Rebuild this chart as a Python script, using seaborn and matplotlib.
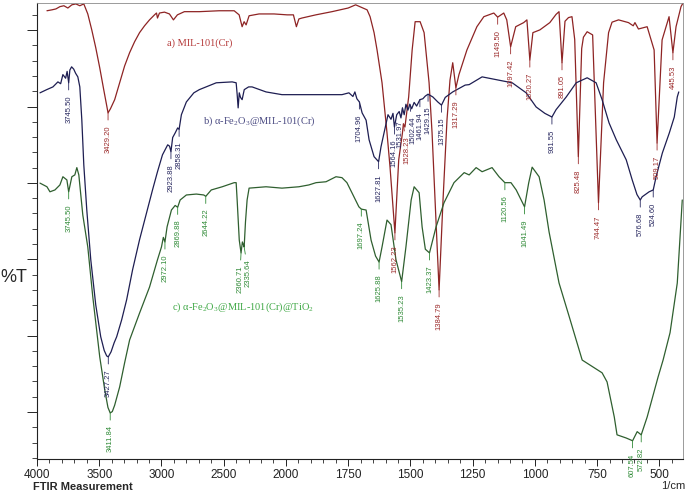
import numpy as np
import matplotlib
matplotlib.use('Agg')
import matplotlib.pyplot as plt
from matplotlib.ticker import FixedLocator, MultipleLocator, FuncFormatter, NullFormatter
import seaborn as sns

# a) MIL-101(Cr)  (wavenumber in 1/cm, %T)
mil_wn = [3920, 3880, 3848, 3816, 3784, 3752, 3720, 3688, 3656, 3624, 3608, 3592,
          3560, 3528, 3496, 3464, 3440, 3429.20, 3410, 3376, 3336, 3296, 3256, 3216,
          3176, 3136, 3096, 3056, 3040, 3032, 3016, 2976, 2936, 2904, 2872, 2816,
          2696, 2536, 2416, 2376, 2352, 2336, 2320, 2296, 2216, 2096, 1995, 1970,
          1958, 1948, 1936, 1880, 1815, 1750, 1720, 1674, 1662, 1646, 1634, 1614,
          1594, 1582, 1562.23, 1547, 1532, 1528.23, 1522, 1507, 1493, 1481, 1461,
          1445, 1425, 1413, 1401, 1384.79, 1369, 1353, 1341, 1330, 1317.29, 1305,
          1273, 1233, 1205, 1165, 1149.50, 1125, 1113, 1097.42, 1077, 1045, 1032,
          1020.27, 1008, 980, 940, 915, 903, 891.05, 879, 865, 851, 840, 825.48,
          812, 805, 790, 768, 744.47, 724, 704, 690, 664, 624, 605, 598, 584, 549,
          521, 509.17, 489, 461, 445.53, 433, 413, 405]
mil_t = [98.3, 98.5, 98.7, 99.2, 99.4, 98.9, 99.6, 99.8, 99.4, 99.8, 98.7, 97.6,
         94.1, 90.2, 85.8, 81.0, 77.5, 75.9, 76.8, 78.8, 82.5, 86.2, 89.1, 91.5,
         93.5, 95.0, 96.3, 97.4, 97.8, 96.7, 97.8, 98.0, 97.6, 96.3, 97.4, 98.1,
         98.1, 98.3, 98.3, 97.4, 94.8, 95.9, 95.2, 97.2, 97.6, 97.6, 97.4, 97.4,
         94.8, 96.5, 96.7, 97.4, 98.1, 98.9, 99.6, 98.5, 97.0, 93.5, 89.7, 82.5,
         71.5, 64.1, 49.6, 65.6, 71.5, 73.5, 72.8, 79.4, 89.7, 95.9, 95.9,
         93.5, 82.5, 71.5, 56.8, 37.1, 56.8, 74.4, 83.1, 86.9, 81.4, 84.3,
         89.7, 94.8, 97.0, 97.8, 96.9, 97.8, 96.3, 90.4, 94.8, 95.7, 96.3,
         87.5, 93.5, 94.1, 95.7, 97.5, 98.1, 86.9, 96.0, 96.8, 97.0, 92.0, 66.3,
         90.0, 92.5, 93.7, 93.0, 56.2, 82.5, 93.5, 95.8, 96.3, 95.7, 95.0, 95.7, 94.3, 94.8,
         89.7, 69.3, 91.9, 97.0, 89.1, 94.8, 99.2, 100.0]
mil_peaks = [3429.20, 1562.23, 1528.23, 1384.79, 1317.29, 1149.50, 1097.42,
             1020.27, 891.05, 825.48, 744.47, 509.17, 445.53]

# b) a-Fe2O3@MIL-101(Cr)
fe_wn = [3976, 3922, 3872, 3832, 3810, 3792, 3770, 3758, 3745.50, 3736, 3722, 3705,
         3690, 3672, 3656, 3640, 3624, 3600, 3568, 3528, 3488, 3460, 3440, 3427.27,
         3405, 3380, 3360, 3320, 3280, 3232, 3176, 3120, 3072, 3032, 2992, 2950,
         2935, 2923.88, 2910, 2890, 2870, 2858.31, 2840, 2800, 2740, 2696, 2560,
         2432, 2400, 2392, 2384, 2375, 2365, 2352, 2335, 2300, 2272, 2160, 2032,
         1960, 1880, 1775, 1747, 1731, 1723, 1715, 1704.96, 1694, 1678, 1666, 1646,
         1627.81, 1618, 1604, 1590, 1578, 1570, 1564.16, 1555, 1545, 1538, 1531.97,
         1525, 1518, 1510, 1502.44, 1495, 1485, 1475, 1461.94, 1450, 1440, 1429.15,
         1410, 1390, 1375.15, 1360, 1330, 1280, 1264, 1212, 1156, 1091, 1035, 995,
         960, 931.55, 915, 874, 834, 790, 754, 730, 702, 673, 633, 609, 590, 576.68,
         569, 541, 524.60, 513, 488, 460, 440, 428, 422]
fe_t = [80.3, 81.0, 81.6, 82.7, 82.3, 84.3, 83.5, 85.0, 82.5, 85.3, 86.0, 85.5,
        84.6, 83.8, 81.6, 74.4, 64.5, 54.6, 43.7, 33.8, 26.8, 23.8, 22.6, 22.4,
        23.5, 25.5, 26.8, 30.5, 34.9, 41.5, 48.1, 54.0, 59.0, 63.0, 66.7, 68.9,
        68.6, 67.4, 70.5, 71.5, 72.6, 72.3, 75.5, 78.3, 80.3, 81.0, 82.5,
        82.7, 82.5, 80.0, 77.0, 80.3, 79.3, 78.8, 81.0, 81.6, 81.6, 80.5, 79.9,
        79.9, 79.9, 79.9, 80.3, 79.5, 80.5, 79.0, 78.3, 75.9, 74.3, 70.0, 66.3,
        65.2, 68.5, 72.0, 75.5, 74.5, 75.8, 72.8, 75.5, 76.2, 74.8, 77.0,
        75.5, 77.8, 76.5, 77.8, 76.8, 78.2, 77.4, 78.8, 79.0, 79.6, 80.0,
        79.4, 78.3, 77.6, 79.3, 80.5, 82.0, 82.1, 83.8, 83.2, 82.5, 80.3, 77.2,
        75.8, 75.0, 76.6, 79.4, 82.5, 83.6, 82.5, 78.8, 73.7, 70.0, 65.6, 61.2, 58.0, 56.8,
        57.5, 58.6, 59.0, 61.9, 67.1, 71.5, 75.0, 79.4, 80.5]
fe_peaks = [3745.50, 3427.27, 2923.88, 2858.31, 1704.96, 1627.81, 1564.16,
            1531.97, 1502.44, 1461.94, 1429.15, 1375.15, 931.55, 576.68, 524.60]

# c) a-Fe2O3@MIL-101(Cr)@TiO2
ti_wn = [3976, 3920, 3896, 3856, 3816, 3792, 3760, 3745.50, 3720, 3696, 3680, 3664,
         3656, 3632, 3592, 3552, 3496, 3456, 3430, 3411.84, 3395, 3376, 3336, 3296,
         3256, 3176, 3096, 3032, 3000, 2985, 2972.10, 2955, 2920, 2890, 2869.88,
         2850, 2800, 2720, 2660, 2644.22, 2600, 2512, 2416, 2400, 2392, 2375,
         2360.71, 2350, 2342, 2335.64, 2325, 2312, 2296, 2160, 2032, 1948, 1908,
         1879, 1839, 1799, 1775, 1755, 1735, 1707, 1697.24, 1678, 1658, 1640,
         1625.88, 1614, 1594, 1578, 1558, 1535.23, 1518, 1497, 1485, 1465, 1453,
         1440, 1423.37, 1397, 1365, 1325, 1284, 1264, 1236, 1212, 1172, 1144,
         1120.56, 1096, 1075, 1041.49, 1025, 1011, 983, 963, 943, 903, 862, 810,
         730, 710, 681, 670, 633, 607.54, 589, 572.82, 549, 505, 485, 457, 428,
         412, 408]
ti_t = [60.5, 59.7, 58.6, 59.0, 60.1, 61.9, 61.2, 58.6, 61.9, 62.3, 63.9, 62.3,
        60.1, 53.5, 46.5, 35.6, 22.4, 15.2, 11.3, 10.1, 10.4, 11.8, 15.8, 21.1,
        26.1, 32.0, 37.7, 43.7, 46.5, 48.6, 47.6, 50.9, 54.6, 55.6, 55.2,
        56.8, 57.9, 58.1, 57.9, 57.6, 59.0, 59.7, 60.6, 60.6, 56.8, 48.0,
        45.2, 47.6, 47.0, 46.5, 52.0, 56.8, 59.4, 59.7, 59.4, 59.7, 60.1,
        60.6, 60.8, 61.9, 61.7, 60.6, 58.4, 55.3, 54.8, 54.6, 48.0, 44.5,
        43.2, 46.5, 52.4, 51.4, 43.7, 38.9, 46.5, 56.8, 59.7, 58.4, 50.9,
        46.0, 45.2, 50.9, 56.2, 60.6, 62.8, 62.3, 63.9, 63.0, 63.9, 61.9,
        60.6, 60.6, 59.0, 55.3, 60.5, 64.0, 61.9, 56.8, 49.8, 38.6, 31.2, 21.7,
        18.9, 16.9, 9.2, 5.3, 4.6, 4.0, 6.0, 5.3, 9.2, 18.0, 21.7, 27.7, 38.6,
        53.1, 56.8]
ti_peaks = [3745.50, 3411.84, 2972.10, 2869.88, 2644.22, 2360.71, 2335.64,
            1697.24, 1625.88, 1535.23, 1423.37, 1120.56, 1041.49, 607.54, 572.82]

x_major = [4000, 3500, 3000, 2500, 2000, 1750, 1500, 1250, 1000, 750, 500]

# small sideways nudges (points) for labels that sit on top of each other
label_nudge = {2335.64: 3.0, 2360.71: -1.0,
               1531.97: -1.8, 1528.23: 2.5, 1502.44: 2.2}


def fwd(x):
    # the instrument halves the scale below 2000 1/cm
    x = np.asarray(x, dtype=float)
    return np.where(x >= 2000, x, 2 * x - 2000)


def inv(y):
    y = np.asarray(y, dtype=float)
    return np.where(y >= 2000, y, (y + 2000) / 2)


def add_peak_labels(ax, wn, t, peaks, color):
    order = np.argsort(wn)
    xs = np.asarray(wn)[order]
    ys = np.asarray(t)[order]
    for p in peaks:
        y = np.interp(p, xs, ys)
        dx = label_nudge.get(p, 0)
        ax.annotate(f'{p:.2f}', xy=(p, y), xytext=(dx, -9), textcoords='offset points',
                    rotation=90, ha='center', va='top', fontsize=5.5, color=color,
                    annotation_clip=False,
                    arrowprops=dict(arrowstyle='-', color=color, lw=0.6,
                                    shrinkA=1.5, shrinkB=0))


def main():
    sns.set_style('ticks')
    plt.rcParams['font.family'] = ['Liberation Sans', 'DejaVu Sans']
    plt.rcParams['mathtext.fontset'] = 'custom'
    plt.rcParams['mathtext.rm'] = 'Liberation Serif'

    fig = plt.figure(figsize=(6.85, 4.94), dpi=100)
    ax = fig.add_axes([37 / 685, 35 / 494, 646 / 685, 456 / 494])

    series = [
        (mil_wn, mil_t, mil_peaks, '#8e2424', '#9c2b2b'),
        (fe_wn, fe_t, fe_peaks, '#1e1e52', '#27275f'),
        (ti_wn, ti_t, ti_peaks, '#2f5f2f', '#2f8a36'),
    ]
    for wn, t, peaks, line_c, text_c in series:
        sns.lineplot(x=wn, y=t, ax=ax, color=line_c, lw=0.9, sort=False, estimator=None)

    ax.set_xscale('function', functions=(fwd, inv))
    ax.set_xlim(4000, 405)
    ax.set_ylim(0, 100)

    for wn, t, peaks, line_c, text_c in series:
        add_peak_labels(ax, wn, t, peaks, text_c)

    # sample names
    serif = ['Liberation Serif', 'DejaVu Serif']
    ax.text(0.201, 0.912, 'a) MIL-101(Cr)', transform=ax.transAxes, family=serif,
            fontsize=7.5, color='#b53a3a', va='center')
    ax.text(0.257, 0.741, r'b) α-Fe$_{\mathregular{2}}$O$_{\mathregular{3}}$@MIL-101(Cr)',
            transform=ax.transAxes, family=serif, fontsize=7.5, color='#4a4a82', va='center')
    ax.text(0.209, 0.333,
            r'c) α-Fe$_{\mathregular{2}}$O$_{\mathregular{3}}$@MIL-101(Cr)@TiO$_{\mathregular{2}}$',
            transform=ax.transAxes, family=serif, fontsize=7.5, color='#3fa845', va='center')

    # axes
    ax.xaxis.set_major_locator(FixedLocator(x_major))
    minors = list(range(3900, 2000, -100)) + list(range(1950, 400, -50))
    ax.xaxis.set_minor_locator(FixedLocator(minors))
    ax.xaxis.set_major_formatter(FuncFormatter(lambda v, p: f'{v:.0f}'))
    ax.xaxis.set_minor_formatter(NullFormatter())
    ax.yaxis.set_major_locator(MultipleLocator(16.75, offset=10.3))
    ax.yaxis.set_minor_locator(MultipleLocator(3.35, offset=10.3))
    ax.yaxis.set_major_formatter(NullFormatter())

    ax.tick_params(axis='x', which='major', direction='out', length=5, width=0.7,
                   labelsize=8.5, pad=2, colors='#222222')
    ax.tick_params(axis='x', which='minor', direction='out', length=3, width=0.6)
    ax.tick_params(axis='y', which='major', direction='out', length=7, width=0.7)
    ax.tick_params(axis='y', which='minor', direction='out', length=3.5, width=0.6)

    for side in ['left', 'bottom']:
        ax.spines[side].set_linewidth(0.8)
        ax.spines[side].set_color('#222222')
    for side in ['top', 'right']:
        ax.spines[side].set_visible(True)
        ax.spines[side].set_linewidth(0.6)
        ax.spines[side].set_color('#8a8a8a')

    ax.set_ylabel('%T', rotation=0, fontsize=13, ha='center', va='center')
    ax.yaxis.set_label_coords(-0.036, 0.399)
    ax.set_xlabel('FTIR Measurement', fontsize=8, fontweight='bold', ha='left', va='center')
    ax.xaxis.set_label_coords(-0.006, -0.061)
    ax.text(1.003, -0.059, '1/cm', transform=ax.transAxes, ha='right', va='center',
            fontsize=8)

    fig.savefig('out.png', dpi=100)
    plt.close(fig)


if __name__ == '__main__':
    main()
